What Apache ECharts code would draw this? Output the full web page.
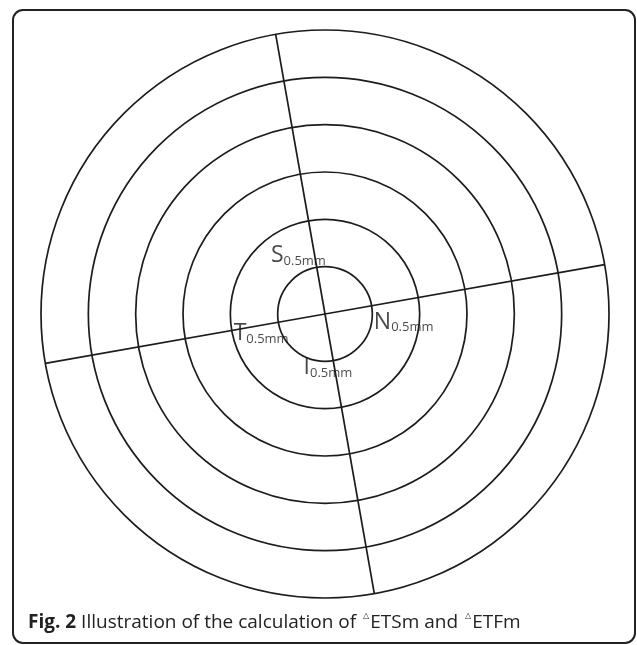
<!DOCTYPE html>
<html>
<head>
<meta charset="utf-8">
<style>
html,body{margin:0;padding:0;background:#fff;}
#chart{width:637px;height:645px;}
</style>
<script src="https://cdn.jsdelivr.net/npm/echarts@6/dist/echarts.min.js"></script>
</head>
<body>
<div id="chart"></div>
<script>
// ---- data ----
const ringCount = 6;                 // concentric circles (radius units)
const spokeStep = 90;                // degrees between the two crossing diameters
const spokeRotation = 10;            // rotation of the cross (deg, counter-clockwise)
const labelNames = ['S', 'N', 'T', 'I'];
const labelSub = '0.5mm';
const labelRadius = [1.36, 1.67, 1.41, 1.13];
const labelAngle = [104.4, 344.5, 186.9, 263.2];
const captionBold = 'Fig. 2';
const captionText = ' Illustration of the calculation of ';
const captionTerms = ['ETSm', 'ETFm'];

const ink = '#1c1c1c';
const chart = echarts.init(document.getElementById('chart'), null, {renderer: 'canvas'});

const labelData = labelNames.map((n, i) => ({
  value: [labelRadius[i], labelAngle[i]],
  name: n
}));

const option = {
  backgroundColor: '#ffffff',
  animation: false,
  title: {
    left: 23,
    top: 606,
    text: '{b|' + captionBold + '}{n|' + captionText + '}{t|\u25B3}{n|' + captionTerms[0] + ' and }{t|\u25B3}{n|' + captionTerms[1] + '}',
    textStyle: {
      fontWeight: 'normal',
      rich: {
        b: {fontFamily: 'Open Sans', fontWeight: 'bold', fontSize: 19, color: '#222', lineHeight: 23},
        n: {fontFamily: 'Open Sans', fontWeight: 'normal', fontSize: 19, color: '#222', lineHeight: 23},
        t: {fontFamily: 'DejaVu Sans', fontWeight: 'normal', fontSize: 8, color: '#222', lineHeight: 23, verticalAlign: 'top', padding: [1, 1, 0, 2]}
      }
    }
  },
  graphic: [{
    type: 'rect',
    shape: {x: 13, y: 10, width: 622, height: 633, r: 10},
    style: {fill: 'none', stroke: '#222', lineWidth: 2},
    silent: true
  }],
  polar: {
    center: [325, 314],
    radius: 284
  },
  radiusAxis: {
    type: 'value',
    min: 0,
    max: ringCount,
    interval: 1,
    axisLine: {show: false},
    axisTick: {show: false},
    axisLabel: {show: false},
    splitLine: {show: true, lineStyle: {color: ink, width: 1.7}}
  },
  angleAxis: {
    type: 'value',
    min: 0,
    max: 360,
    interval: spokeStep,
    startAngle: spokeRotation,
    clockwise: false,
    axisLine: {show: false},
    axisTick: {show: false},
    axisLabel: {show: false},
    splitLine: {show: true, lineStyle: {color: ink, width: 1.7}}
  },
  series: [{
    type: 'scatter',
    coordinateSystem: 'polar',
    symbolSize: 1,
    itemStyle: {color: 'rgba(0,0,0,0)'},
    data: labelData,
    label: {
      show: true,
      position: 'inside',
      formatter: p => '{b|' + p.name + '}{s|' + labelSub + '}',
      rich: {
        b: {fontFamily: 'Open Sans', fontSize: 23, color: '#1a1a1a', lineHeight: 24, verticalAlign: 'bottom'},
        s: {fontFamily: 'Open Sans', fontSize: 13, color: '#1a1a1a', lineHeight: 15, verticalAlign: 'bottom'}
      }
    }
  }]
};
chart.setOption(option);
</script>
</body>
</html>
